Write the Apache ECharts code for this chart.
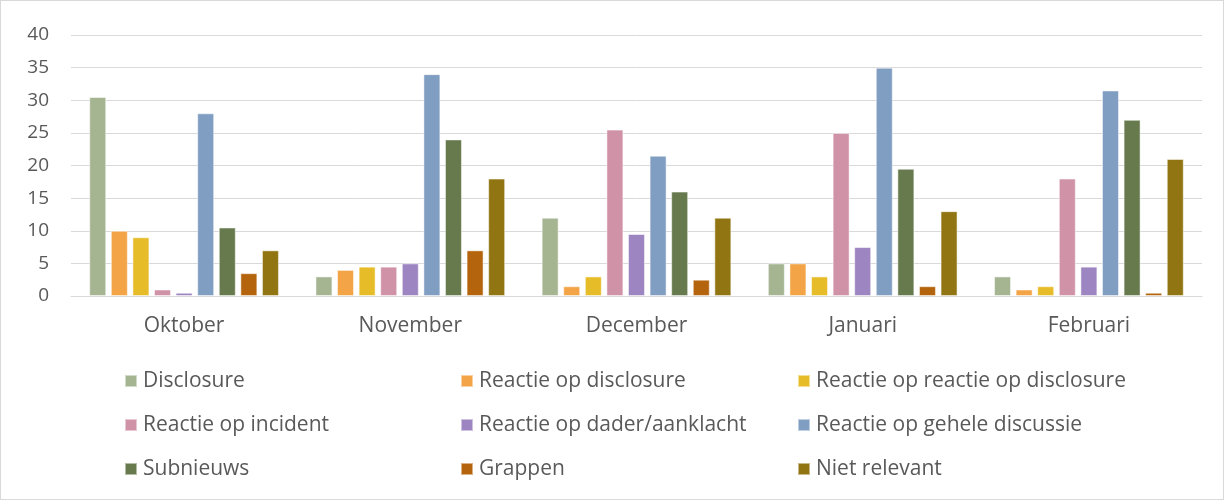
<!DOCTYPE html>
<html>
<head>
<meta charset="utf-8">
<script src="https://cdn.jsdelivr.net/npm/echarts@6/dist/echarts.min.js"></script>
<style>
  html, body { margin: 0; padding: 0; background: #fff; }
  #chart { width: 1222px; height: 498px; border: 1px solid #d9d9d9; }
</style>
</head>
<body>
<div id="chart"></div>
<script>
// maanden
const months = ['Oktober', 'November', 'December', 'Januari', 'Februari'];

const seriesNames = [
  'Disclosure', 'Reactie op disclosure', 'Reactie op reactie op disclosure',
  'Reactie op incident', 'Reactie op dader/aanklacht', 'Reactie op gehele discussie',
  'Subnieuws', 'Grappen', 'Niet relevant'
];
const colors = ['#a5b592', '#f3a447', '#e7bc29', '#d092a7', '#9c85c0', '#809ec2', '#667a4e', '#b3640d', '#917512'];

const disclosure = [30.5, 3, 12, 5, 3];
const reactieDisclosure = [10, 4, 1.5, 5, 1];
const reactieReactie = [9, 4.5, 3, 3, 1.5];
const reactieIncident = [1, 4.5, 25.5, 25, 18];
const reactieDader = [0.5, 5, 9.5, 7.5, 4.5];
const reactieGehele = [28, 34, 21.5, 35, 31.5];
const subnieuws = [10.5, 24, 16, 19.5, 27];
const grappen = [3.5, 7, 2.5, 1.5, 0.5];
const nietRelevant = [7, 18, 12, 13, 21];

const yTicks = { min: 0, max: 40, interval: 5 };

const allData = [disclosure, reactieDisclosure, reactieReactie, reactieIncident,
  reactieDader, reactieGehele, subnieuws, grappen, nietRelevant];

let chart = echarts.init(document.getElementById('chart'));

const textColor = '#595959';
const fontFamily = '"Open Sans", "Liberation Sans", sans-serif';

// legenda in 3 kolommen
function legendCol(idx, left) {
  return {
    orient: 'vertical',
    left: left,
    top: 364,
    itemWidth: 12,
    itemHeight: 12,
    itemGap: 22,
    icon: 'rect',
    data: [seriesNames[idx], seriesNames[idx + 3], seriesNames[idx + 6]],
    textStyle: { color: textColor, fontSize: 21, fontFamily: fontFamily, lineHeight: 22, padding: [0, 0, 0, 1] }
  };
}

let option = {
  animation: false,
  color: colors,
  grid: { left: 70, right: 21, top: 34, bottom: 203 },
  legend: [legendCol(0, 118), legendCol(1, 454), legendCol(2, 791)],
  xAxis: {
    type: 'category',
    data: months,
    axisLine: { lineStyle: { color: '#d9d9d9', width: 1 } },
    axisTick: { show: false },
    axisLabel: { color: textColor, fontSize: 21, fontFamily: fontFamily, margin: 20 }
  },
  yAxis: {
    type: 'value',
    min: yTicks.min,
    max: yTicks.max,
    interval: yTicks.interval,
    axisLine: { show: false },
    axisTick: { show: false },
    axisLabel: { color: textColor, fontSize: 19, fontFamily: fontFamily, margin: 22 },
    splitLine: { lineStyle: { color: '#d9d9d9', width: 1 } }
  },
  series: seriesNames.map((name, i) => ({
    name: name,
    type: 'bar',
    data: allData[i],
    barWidth: 17,
    barGap: '27%',
    itemStyle: { borderColor: 'rgba(255,255,255,0.5)', borderWidth: 1 }
  }))
};

chart.setOption(option);
</script>
</body>
</html>
